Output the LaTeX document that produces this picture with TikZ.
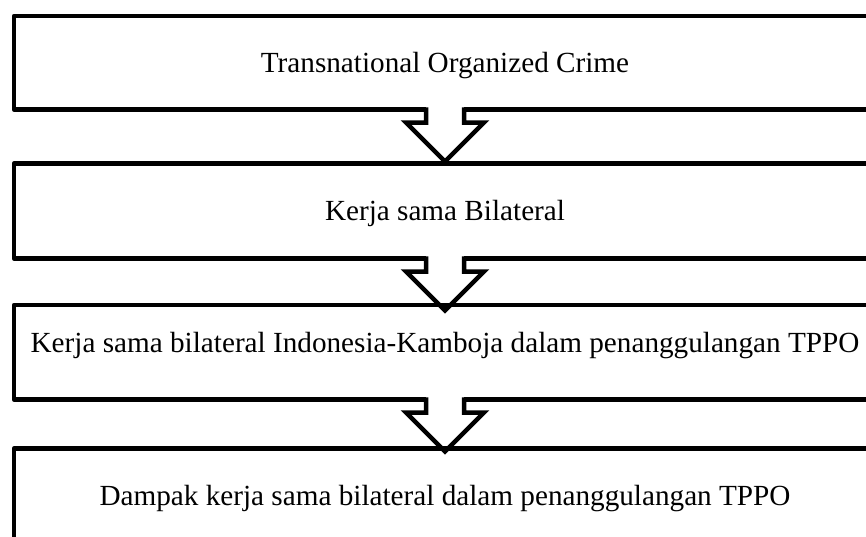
\documentclass[tikz,border=0pt]{standalone}
\usepackage{fontspec}
\setmainfont{Liberation Serif}
\usetikzlibrary{calc}

\tikzset{
  box/.style={draw, line width=4.5pt, line join=round, minimum width=862pt, inner sep=0pt, outer sep=0pt,
    font=\fontsize{29.2}{35}\selectfont, text height=20pt, text depth=1pt},
  blockarrow/.style={line width=4.5pt, line join=miter}
}

\begin{document}
\begin{tikzpicture}[x=1pt, y=1pt]
			%%%%% START %%%%%
			\useasboundingbox (0,0) rectangle (866,-536);
			\clip (0,0) rectangle (866,-536);
			
			\node[box, minimum height=93.5pt] (crime) at (445,-62.75) {Transnational Organized Crime};
			\node[box, minimum height=95pt] (bilateral) at (445,-211) {Kerja sama Bilateral};
			\node[box, minimum height=94.5pt, text depth=20pt] (indokamboja) at (445,-352.25) {Kerja sama bilateral Indonesia-Kamboja dalam penanggulangan TPPO};
			\node[box, minimum height=94pt] (dampak) at (445,-495.5) {Dampak kerja sama bilateral dalam penanggulangan TPPO};
			
			\foreach \from in {crime, bilateral, indokamboja}{
				\coordinate (tip) at ($(\from.south)+(0,-52)$);
				\fill[white] ($(\from.south)+(-19,3)$) rectangle ($(\from.south)+(19,-3)$);
				\draw[blockarrow] ($(\from.south)+(-19,2.25)$) -- ($(\from.south)+(-19,-13)$) -- ($(\from.south)+(-39,-13)$) -- (tip)
					-- ($(\from.south)+(39,-13)$) -- ($(\from.south)+(19,-13)$) -- ($(\from.south)+(19,2.25)$);
			}
			
			%%%%% END %%%%%
\end{tikzpicture}
\end{document}
